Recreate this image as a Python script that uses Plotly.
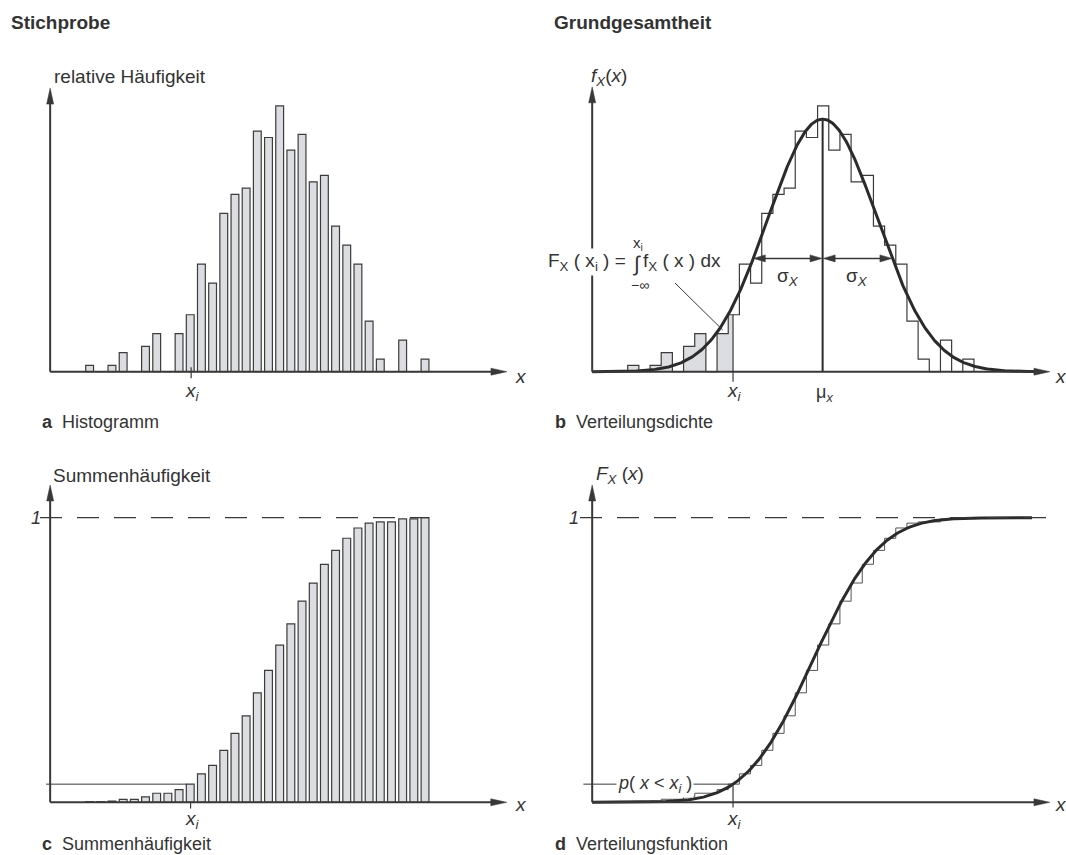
import numpy as np
import plotly.graph_objects as go
from math import erf, sqrt, exp, log

# ---------------- data ----------------
bin_index = list(range(31))
hist_counts = [1, 0, 1, 3, 0, 4, 6, 0, 6, 9, 17, 14, 25, 28, 29, 38, 37, 42,
               35, 37.5, 30, 31, 23, 20, 17, 8, 2, 0, 5, 0, 2]
x_i = 9.43          # position of x_i (in bin units)
mu_x = 17.45        # mean of the theoretical density (panel b)
sigma_x = 4.9       # standard deviation of the theoretical density (panel b)
pdf_peak = 39.9     # peak height of density curve (count units)
sigma_arrow_level = 17.9  # height of the sigma arrows (count units)
cdf_mu = 16.6       # centre of the drawn distribution function (panel d)
cdf_sigma = 4.7     # spread of the drawn distribution function (panel d)

cum_counts = np.cumsum(hist_counts)
cum_freq = cum_counts / cum_counts[-1]

# ---------------- styling ----------------
W, H = 1066, 855
FONT = "Liberation Sans, Arial, sans-serif"
TXT = "#333333"
AX = "#383838"
EDGE = "#3c3c3c"
FILL = "#dcdde0"
CURVE = "#2b2b2b"

panels = {
    'a': dict(xa='x', ya='y', x0=85.7, sx=11.18, y0=371.7, sy=6.33, box=(0, 533, 40, 432)),
    'b': dict(xa='x2', ya='y2', x0=627.7, sx=11.17, y0=371.7, sy=6.33, box=(533, 1066, 40, 432)),
    'c': dict(xa='x3', ya='y3', x0=85.7, sx=11.18, y0=802.3, sy=284.6, box=(0, 533, 440, 855)),
    'd': dict(xa='x4', ya='y4', x0=627.7, sx=11.17, y0=802.3, sy=284.6, box=(533, 1066, 440, 855)),
}
ORIGIN_X = -3.18


def to_data(p, px, py):
    return (px - p['x0']) / p['sx'], (p['y0'] - py) / p['sy']


def to_px(p, x, y):
    return p['x0'] + x * p['sx'], p['y0'] - y * p['sy']


def head(p, tip, direction, length=16, width=7):
    tx, ty = to_px(p, *tip)
    dx, dy = direction
    bx, by = tx - dx * length, ty - dy * length
    nx, ny = -dy, dx
    pts = [(tx, ty), (bx + nx * width / 2, by + ny * width / 2),
           (bx - nx * width / 2, by - ny * width / 2)]
    d = [to_data(p, *q) for q in pts]
    path = "M {:.4f} {:.5f} L {:.4f} {:.5f} L {:.4f} {:.5f} Z".format(
        d[0][0], d[0][1], d[1][0], d[1][1], d[2][0], d[2][1])
    return dict(type='path', xref=p['xa'], yref=p['ya'], path=path,
                fillcolor=AX, line=dict(color=AX, width=0.5), layer='above')


def seg(p, x0, y0, x1, y1, width=1.0, color=AX, dash=None):
    ln = dict(color=color, width=width)
    if dash:
        ln['dash'] = dash
    return dict(type='line', xref=p['xa'], yref=p['ya'], x0=x0, y0=y0, x1=x1, y1=y1,
                line=ln, layer='above')


fig = go.Figure()
shapes = []
annotations = []

# axes layout
layout_axes = {}
for key, p in panels.items():
    l, r, t, b = p['box']
    xr = [(l - p['x0']) / p['sx'], (r - p['x0']) / p['sx']]
    yr = [(p['y0'] - b) / p['sy'], (p['y0'] - t) / p['sy']]
    xname = 'xaxis' if p['xa'] == 'x' else 'xaxis' + p['xa'][1:]
    yname = 'yaxis' if p['ya'] == 'y' else 'yaxis' + p['ya'][1:]
    layout_axes[xname] = dict(domain=[l / W, r / W], range=xr, visible=False,
                              anchor=p['ya'], fixedrange=True)
    layout_axes[yname] = dict(domain=[1 - b / H, 1 - t / H], range=yr, visible=False,
                              anchor=p['xa'], fixedrange=True)

# axis lines with arrows
axis_tips = {'a': (37.68, 44.8), 'b': (37.8, 45.0), 'c': (37.66, 1.115), 'd': (37.8, 1.115)}
for key, p in panels.items():
    xt, yt = axis_tips[key]
    shapes.append(seg(p, ORIGIN_X, 0, xt - 12 / p['sx'], 0, width=2))
    shapes.append(seg(p, ORIGIN_X, 0, ORIGIN_X, yt - 12 / p['sy'], width=2))
    shapes.append(head(p, (xt, 0), (1, 0)))
    shapes.append(head(p, (ORIGIN_X, yt), (0, -1)))

# ---- panel a: histogram ----
pa = panels['a']
fig.add_trace(go.Bar(x=[k + 0.35 for k in bin_index], y=hist_counts, width=0.7,
                     marker=dict(color=FILL, line=dict(color=EDGE, width=1.2)),
                     xaxis='x', yaxis='y', showlegend=False, hoverinfo='skip'))
shapes.append(seg(pa, x_i, -1.05, x_i, 0.7, width=1.2))

# ---- panel b: density ----
pb = panels['b']
k_i = int(x_i)
shade_x = bin_index[:k_i + 1] + [x_i]
shade_y = hist_counts[:k_i + 1] + [hist_counts[k_i]]
fig.add_trace(go.Scatter(x=shade_x, y=shade_y, mode='lines', line=dict(width=0, shape='hv'),
                         fill='tozeroy', fillcolor=FILL, xaxis='x2', yaxis='y2',
                         showlegend=False, hoverinfo='skip'))
fig.add_trace(go.Scatter(x=[0] + bin_index + [31], y=[0] + hist_counts + [0], mode='lines',
                         line=dict(color=EDGE, width=1.2, shape='hv'), xaxis='x2', yaxis='y2',
                         showlegend=False, hoverinfo='skip'))
xs_pdf = np.linspace(ORIGIN_X, 36.9, 500)
ys_pdf = pdf_peak * np.exp(-0.5 * ((xs_pdf - mu_x) / sigma_x) ** 2)
fig.add_trace(go.Scatter(x=xs_pdf, y=ys_pdf, mode='lines', line=dict(color=CURVE, width=3),
                         xaxis='x2', yaxis='y2', showlegend=False, hoverinfo='skip'))
fig.add_trace(go.Scatter(x=[mu_x, mu_x], y=[0, pdf_peak], mode='lines',
                         line=dict(color=CURVE, width=2), xaxis='x2', yaxis='y2',
                         showlegend=False, hoverinfo='skip'))
shapes.append(seg(pb, x_i, -1.6, x_i, hist_counts[k_i], width=1.2))
half = sigma_x * sqrt(2 * log(pdf_peak / sigma_arrow_level))
xl, xr_ = mu_x - half, mu_x + half
ya = sigma_arrow_level
shapes.append(seg(pb, xl + 8 / pb['sx'], ya, mu_x - 8 / pb['sx'], ya, width=1.5))
shapes.append(seg(pb, mu_x + 8 / pb['sx'], ya, xr_ - 8 / pb['sx'], ya, width=1.5))
shapes.append(head(pb, (xl, ya), (-1, 0), length=12, width=7))
shapes.append(head(pb, (mu_x - 0.05, ya), (1, 0), length=12, width=7))
shapes.append(head(pb, (mu_x + 0.05, ya), (-1, 0), length=12, width=7))
shapes.append(head(pb, (xr_, ya), (1, 0), length=12, width=7))
lx0, ly0 = to_data(pb, 675, 283)
lx1, ly1 = to_data(pb, 722.7, 330)
shapes.append(seg(pb, lx0, ly0, lx1, ly1, width=1))

# ---- panel c: cumulative histogram ----
pc = panels['c']
fig.add_trace(go.Bar(x=[k + 0.35 for k in bin_index], y=cum_freq, width=0.7,
                     marker=dict(color=FILL, line=dict(color=EDGE, width=1.2)),
                     xaxis='x3', yaxis='y3', showlegend=False, hoverinfo='skip'))
shapes.append(seg(pc, -4.09, 1, 30.7, 1, width=1.2, dash='22px,15px'))
shapes.append(seg(pc, -3.55, cum_freq[k_i], k_i, cum_freq[k_i], width=1))
shapes.append(seg(pc, x_i - 0.05, -0.022, x_i - 0.05, 0, width=1.2))

# ---- panel d: distribution function ----
pd_ = panels['d']
fig.add_trace(go.Scatter(x=bin_index + [31], y=list(cum_freq) + [1.0], mode='lines',
                         line=dict(color='#555555', width=1, shape='hv'), xaxis='x4', yaxis='y4',
                         showlegend=False, hoverinfo='skip'))
xs_cdf = np.linspace(ORIGIN_X, 36.2, 500)
ys_cdf = [0.5 * (1 + erf((v - cdf_mu) / (cdf_sigma * sqrt(2)))) for v in xs_cdf]
fig.add_trace(go.Scatter(x=xs_cdf, y=ys_cdf, mode='lines', line=dict(color=CURVE, width=3),
                         xaxis='x4', yaxis='y4', showlegend=False, hoverinfo='skip'))
shapes.append(seg(pd_, -4.27, 1, 37.54, 1, width=1.2, dash='22px,15px'))
shapes.append(seg(pd_, -3.97, cum_freq[k_i], x_i, cum_freq[k_i], width=1))
shapes.append(seg(pd_, x_i, -0.018, x_i, cum_freq[k_i], width=1.2))


# ---------------- text ----------------
def txt(px, py, text, size=18, xanchor='left', yanchor='middle', bg=None):
    a = dict(x=px / W, y=1 - py / H, xref='paper', yref='paper', text=text, showarrow=False,
             xanchor=xanchor, yanchor=yanchor, font=dict(family=FONT, size=size, color=TXT))
    if bg:
        a['bgcolor'] = bg
    annotations.append(a)


txt(9, 22, "<b>Stichprobe</b>", size=19)
txt(552, 22, "<b>Grundgesamtheit</b>", size=19)
txt(52, 76, "relative Häufigkeit", size=19)
txt(589, 77, "<i>f</i><sub><i>X</i></sub>(<i>x</i>)", size=19)
txt(40, 422, "<b>a</b>  Histogramm", size=18)
txt(553, 422, "<b>b</b>  Verteilungsdichte", size=18)
txt(51, 475, "Summenhäufigkeit", size=19)
txt(594, 475, "<i>F</i><sub><i>X</i></sub> (<i>x</i>)", size=19)
txt(40, 844, "<b>c</b>  Summenhäufigkeit", size=18)
txt(553, 844, "<b>d</b>  Verteilungsfunktion", size=18)
txt(36, 518, "<i>1</i>", size=18, xanchor='center')
txt(574, 518, "<i>1</i>", size=18, xanchor='center')
for px, py in [(521, 376), (1061, 376), (521, 804), (1061, 804)]:
    txt(px, py, "<i>x</i>", size=19, xanchor='center')

# x_i labels (data anchored)
for p, dy in [(pa, 392), (pb, 392), (pc, 820), (pd_, 820)]:
    xx, _ = to_px(p, x_i, 0)
    txt(xx + 1, dy, "<i>x<sub>i</sub></i>", size=19, xanchor='center')
mx, _ = to_px(pb, mu_x, 0)
txt(mx + 2, 393, "μ<sub><i>x</i></sub>", size=18, xanchor='center')
sx1, sy1 = to_px(pb, (xl + mu_x) / 2, ya)
sx2, _ = to_px(pb, (xr_ + mu_x) / 2, ya)
txt(sx1, sy1 + 19, "σ<sub><i>X</i></sub>", size=19, xanchor='center')
txt(sx2, sy1 + 19, "σ<sub><i>X</i></sub>", size=19, xanchor='center')

# formula
txt(546, 262, "F<sub>X</sub> ( x<sub>i</sub> ) =", size=19, bg='white')
txt(637, 264, "∫", size=21, xanchor='center')
txt(641, 262, "f<sub>X</sub> ( x ) dx", size=19)
txt(638, 243, "x<sub>i</sub>", size=15, xanchor='center')
txt(640, 285, "−∞", size=14, xanchor='center')

# p(x < x_i)
px_mid, py_mid = to_px(pd_, 2.45, cum_freq[k_i])
txt(px_mid, py_mid, "<i>p</i>( <i>x</i> &lt; <i>x</i><sub><i>i</i></sub> )", size=18,
    xanchor='center', bg='white')

fig.update_layout(width=W, height=H, margin=dict(l=0, r=0, t=0, b=0),
                  paper_bgcolor='white', plot_bgcolor='white', showlegend=False,
                  barmode='overlay', shapes=shapes, annotations=annotations,
                  font=dict(family=FONT, color=TXT), **layout_axes)

fig.write_html("out.html")
